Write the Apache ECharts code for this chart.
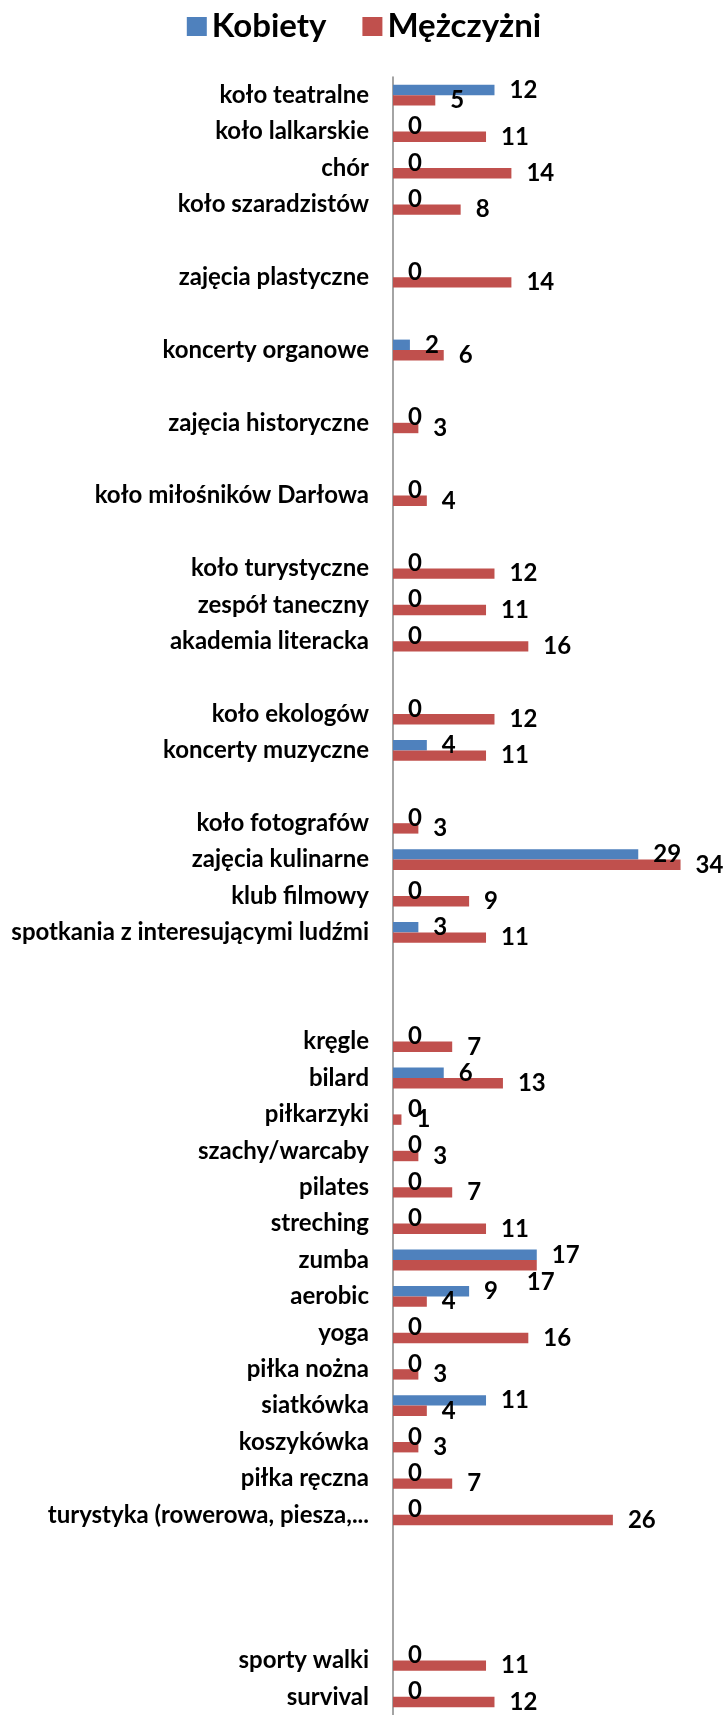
<!DOCTYPE html>
<html>
<head>
<meta charset="utf-8">
<script src="https://cdn.jsdelivr.net/npm/echarts@6/dist/echarts.min.js"></script>
<style>
  html, body { margin: 0; padding: 0; background: #ffffff; }
  #chart { width: 728px; height: 1715px; }
</style>
</head>
<body>
<div id="chart"></div>
<script>
// blank strings are the empty spacer rows of the original sheet
const categories = [
  'koło teatralne', 'koło lalkarskie', 'chór', 'koło szaradzistów', '',
  'zajęcia plastyczne', '', 'koncerty organowe', '', 'zajęcia historyczne', '',
  'koło miłośników Darłowa', '', 'koło turystyczne', 'zespół taneczny',
  'akademia literacka', '', 'koło ekologów', 'koncerty muzyczne', '',
  'koło fotografów', 'zajęcia kulinarne', 'klub filmowy',
  'spotkania z interesującymi ludźmi', '', '',
  'kręgle', 'bilard', 'piłkarzyki', 'szachy/warcaby', 'pilates', 'streching',
  'zumba', 'aerobic', 'yoga', 'piłka nożna', 'siatkówka', 'koszykówka',
  'piłka ręczna', 'turystyka (rowerowa, piesza,...', '', '', '',
  'sporty walki', 'survival'
]

const kobiety = [
  12, 0, 0, 0, null,
  0, null, 2, null, 0, null,
  0, null, 0, 0,
  0, null, 0, 4, null,
  0, 29, 0,
  3, null, null,
  0, 6, 0, 0, 0, 0,
  17, 9, 0, 0, 11, 0,
  0, 0, null, null, null,
  0, 0
]

const mezczyzni = [
  5, 11, 14, 8, null,
  14, null, 6, null, 3, null,
  4, null, 12, 11,
  16, null, 12, 11, null,
  3, 34, 9,
  11, null, null,
  7, 13, 1, 3, 7, 11,
  17, 4, 16, 3, 4, 3,
  7, 26, null, null, null,
  11, 12
]

const seriesNames = ['Kobiety', 'Mężczyżni']
const colors = ['#4f81bd', '#c0504d']
const fontFamily = 'Lato, "Open Sans", sans-serif'

const chart = echarts.init(document.getElementById('chart'))

const valueLabel = {
  show: true,
  position: 'right',
  distance: 15,
  color: '#000000',
  fontFamily,
  fontWeight: 'bold',
  fontSize: 24,
}

// Excel pushed the second zumba label below the bar
const zumbaIndex = categories.indexOf('zumba')
const menData = mezczyzni.map((value, i) =>
  i === zumbaIndex ? { value, label: { offset: [-25, 17] } } : value
)

chart.setOption({
  animation: false,
  backgroundColor: '#ffffff',
  color: colors,
  legend: {
    top: 5,
    left: 'center',
    icon: 'rect',
    itemWidth: 20,
    itemHeight: 19,
    itemGap: 36,
    textStyle: {
      color: '#000000',
      fontFamily,
      fontWeight: 'bold',
      fontSize: 33,
    },
    data: seriesNames,
  },
  grid: {
    left: 393,
    top: 77,
    width: 296,
    height: 1645,
  },
  xAxis: {
    type: 'value',
    min: 0,
    max: 35,
    show: false,
  },
  yAxis: {
    type: 'category',
    inverse: true,
    data: categories,
    axisLine: { show: true, lineStyle: { color: '#868686', width: 1.5 } },
    axisTick: { show: false },
    axisLabel: {
      interval: 0,
      margin: 24,
      color: '#000000',
      fontFamily,
      fontWeight: 'bold',
      fontSize: 24,
    },
    splitLine: { show: false },
  },
  series: [
    {
      name: seriesNames[0],
      type: 'bar',
      barWidth: 10.4,
      barGap: '0%',
      data: kobiety,
      label: valueLabel,
    },
    {
      name: seriesNames[1],
      type: 'bar',
      barWidth: 10.4,
      barGap: '0%',
      data: menData,
      label: valueLabel,
    },
  ],
})
</script>
</body>
</html>
